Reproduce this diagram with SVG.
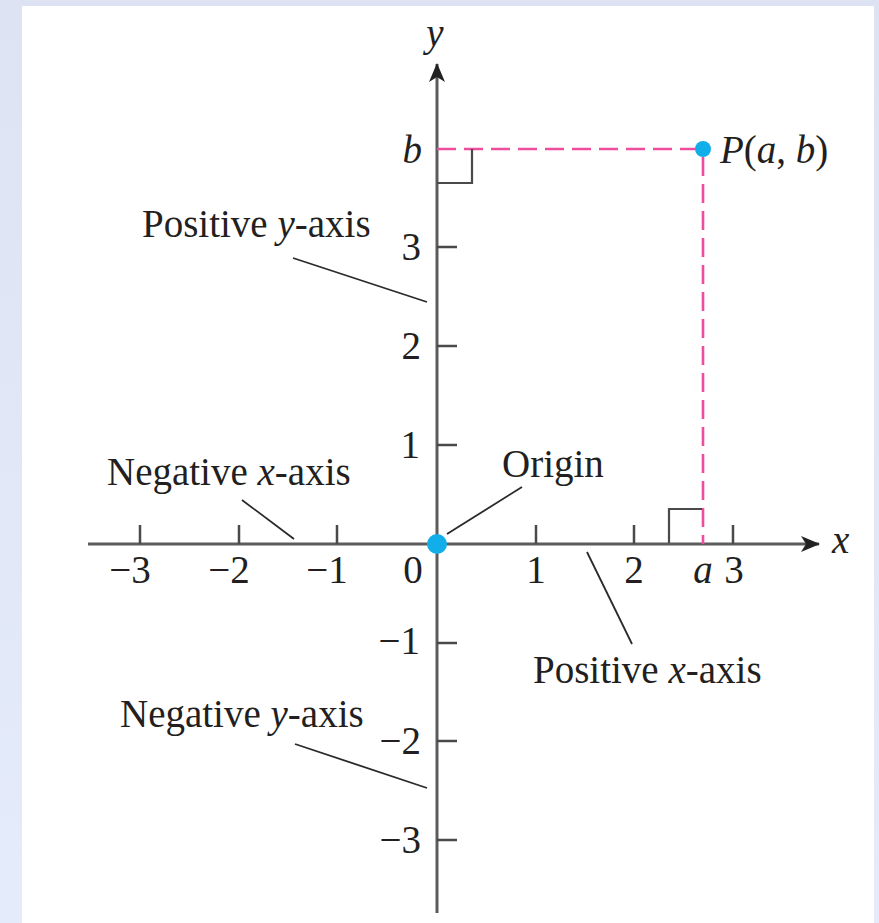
<svg xmlns="http://www.w3.org/2000/svg" width="879" height="923" viewBox="0 0 879 923">
<defs>
<linearGradient id="bg" x1="0" y1="0" x2="0" y2="1">
<stop offset="0" stop-color="#dde3f3"/>
<stop offset="1" stop-color="#e4ebfb"/>
</linearGradient>
<marker id="arr" viewBox="0 0 20 20" refX="18" refY="10" markerWidth="20" markerHeight="20" markerUnits="userSpaceOnUse" orient="auto">
<path d="M0,2 L19,10 L0,18 L5,10 Z" fill="#222"/>
</marker>
<style>
.axis{stroke:#5c5c5c;stroke-width:3;fill:none}
.tick{stroke:#4a4a4a;stroke-width:2.5;fill:none}
.ra{stroke:#4a4a4a;stroke-width:2.2;fill:none}
.lead{stroke:#2a2a2a;stroke-width:1.8;fill:none}
.dash{stroke:#ee4c9c;stroke-width:2.6;stroke-dasharray:19 8;fill:none}
.dot{fill:#12aee9}
text{font-family:"Liberation Serif","Times New Roman",serif;font-size:39px;fill:#231f20}
.it{font-style:italic}
.num{text-anchor:end}
.ctr{text-anchor:middle}
</style>
</defs>
<rect x="0" y="0" width="879" height="923" fill="url(#bg)"/>
<rect x="22" y="6" width="852" height="917" fill="#ffffff"/>

<g id="connectors">
<line class="axis" x1="88" y1="544" x2="819" y2="544" marker-end="url(#arr)"/>
<line class="axis" x1="437" y1="913" x2="437" y2="64" marker-end="url(#arr)"/>
<path class="dash" d="M437,149 H702"/>
<path class="dash" d="M703,157 V544"/>
<path class="ra" d="M437,183 H472 V149"/>
<path class="ra" d="M669,543 V509 H702"/>
<line class="lead" x1="293" y1="258" x2="427" y2="302"/>
<line class="lead" x1="242" y1="500" x2="294" y2="539"/>
<line class="lead" x1="447" y1="534" x2="522" y2="487"/>
<line class="lead" x1="587" y1="552" x2="632" y2="644"/>
<line class="lead" x1="295" y1="744" x2="427" y2="788"/>
</g>

<g id="ticks">
<path class="tick" d="M140,544 V525 M239,544 V525 M337,544 V525 M536,544 V525 M634,544 V525 M733,544 V525"/>
<path class="tick" d="M437,247 H457 M437,346 H457 M437,445 H457 M437,643 H457 M437,741 H457 M437,840 H457"/>
</g>

<g id="axis-labels">
<text class="it ctr" x="435" y="46">y</text>
<text class="it" x="832" y="553">x</text>
</g>

<g id="x-numbers">
<text class="ctr" x="130" y="583">−3</text>
<text class="ctr" x="229" y="583">−2</text>
<text class="ctr" x="327" y="583">−1</text>
<text class="ctr" x="413" y="583">0</text>
<text class="ctr" x="536" y="583">1</text>
<text class="ctr" x="634" y="583">2</text>
<text class="it ctr" x="703" y="583">a</text>
<text class="ctr" x="734" y="583">3</text>
</g>

<g id="y-numbers">
<text class="it num" x="422" y="163">b</text>
<text class="num" x="421" y="260">3</text>
<text class="num" x="421" y="359">2</text>
<text class="num" x="420" y="458">1</text>
<text class="num" x="420" y="654">−1</text>
<text class="num" x="421" y="754">−2</text>
<text class="num" x="421" y="853">−3</text>
</g>

<g id="origin">
<circle class="dot" cx="437" cy="544" r="10"/>
<text x="502" y="477">Origin</text>
</g>

<g id="point-P">
<circle class="dot" cx="703" cy="149" r="8"/>
<text x="720" y="163"><tspan class="it">P</tspan>(<tspan class="it">a</tspan>, <tspan class="it">b</tspan>)</text>
</g>

<g id="positive-y-axis">
<text x="142" y="237">Positive <tspan class="it">y</tspan>-axis</text>
</g>
<g id="negative-x-axis">
<text x="107" y="485">Negative <tspan class="it">x</tspan>-axis</text>
</g>
<g id="positive-x-axis">
<text x="533" y="683">Positive <tspan class="it">x</tspan>-axis</text>
</g>
<g id="negative-y-axis">
<text x="120" y="727">Negative <tspan class="it">y</tspan>-axis</text>
</g>
</svg>
